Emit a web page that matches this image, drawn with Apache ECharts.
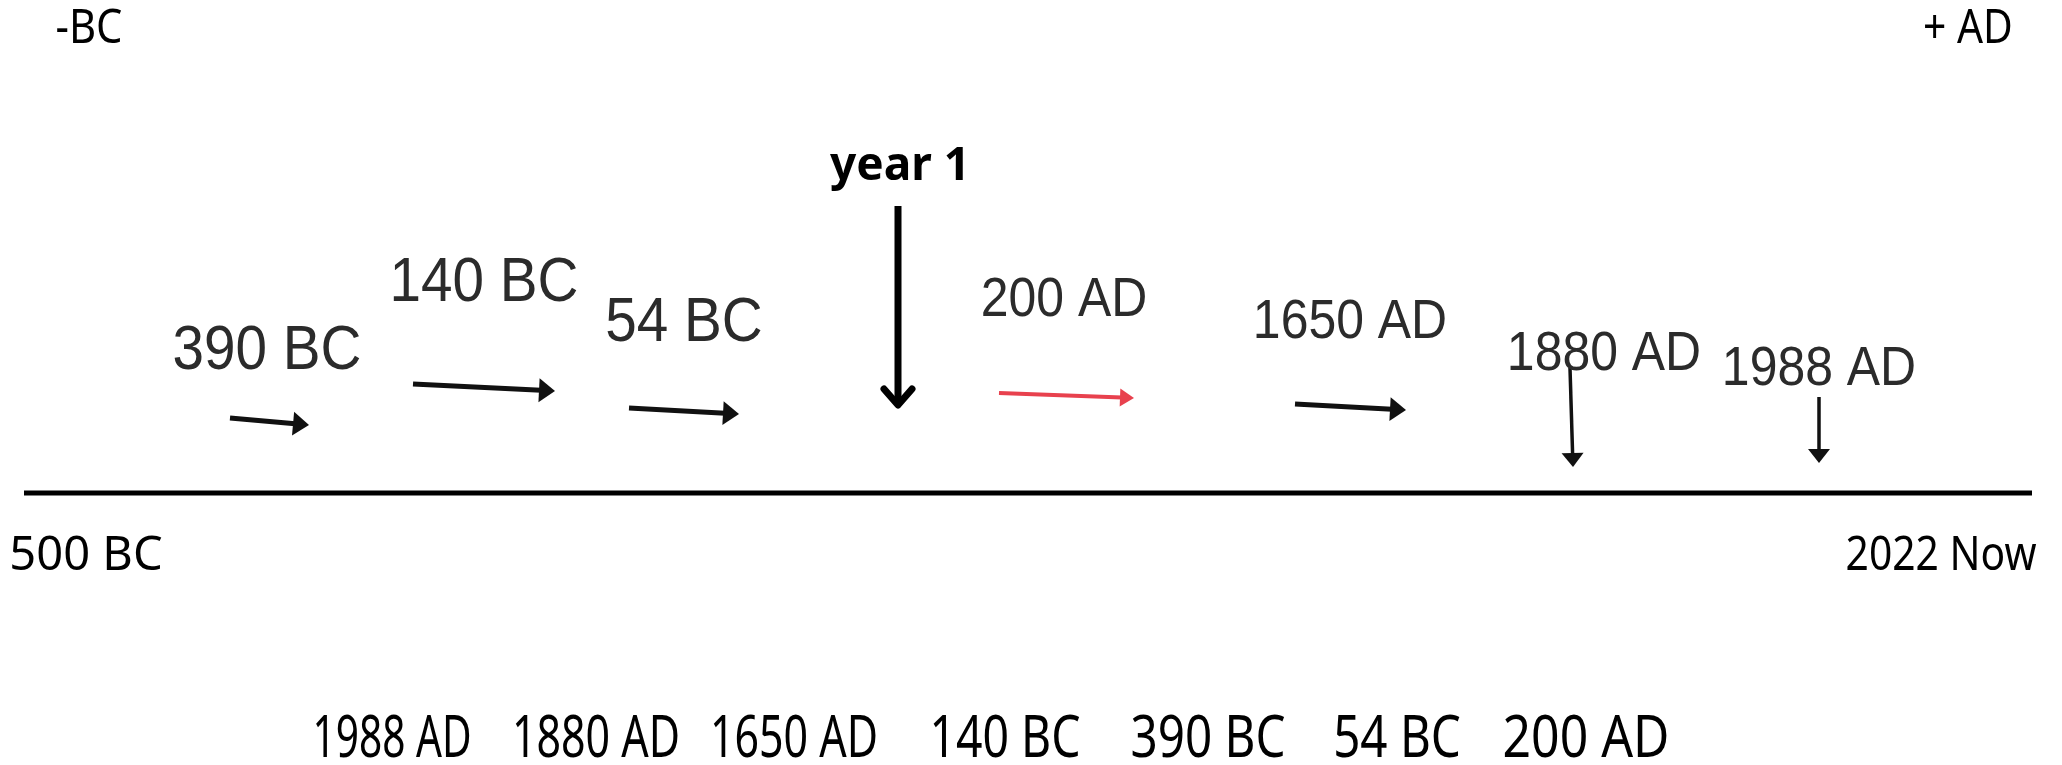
<!DOCTYPE html>
<html>
<head>
<meta charset="utf-8">
<script src="https://cdn.jsdelivr.net/npm/echarts@6/dist/echarts.min.js"></script>
<style>
    html, body { margin: 0; padding: 0; background: #fff; }
    #main { width: 2062px; height: 765px; }
</style>
</head>
<body>
<div id="main"></div>
<script>
// 时间线上方的日期标签
const topLabels = ['390 BC', '140 BC', '54 BC', '200 AD', '1650 AD', '1880 AD', '1988 AD']
const topLabelX = [267, 484, 684, 1064, 1350, 1604, 1819]
const topLabelY = [351, 283, 323, 301, 323, 355, 370]
// 箭头 [x1, y1] -> [x2, y2]
const arrowFrom = [[230, 418], [413, 384], [629, 408], [999, 393], [1295, 404], [1570, 368], [1819, 397]]
const arrowTo = [[309, 425], [555, 391], [739, 414], [1134, 398], [1406, 410], [1573, 467], [1819, 463]]
// 下方打乱顺序的日期
const bottomLabels = ['1988 AD', '1880 AD', '1650 AD', '140 BC', '390 BC', '54 BC', '200 AD']
const bottomLabelX = [392, 596, 794, 1005, 1208, 1397, 1586]
// 其它手写文字
const handLabels = ['-BC', '+ AD', '500 BC', '2022 Now']
const handLabelX = [89, 1968, 86, 1941]
const handLabelY = [29, 29, 556, 556]
// 主时间轴
const axisLineX = [24, 2032]
const axisLineY = 493
const yearOne = { text: 'year 1', x: 900, y: 167, from: [898, 206], to: [898, 405] }

function drawTimeline() {
    const dom = document.getElementById('main')
    const myChart = echarts.init(dom)
    const handFont = '"Noto Sans", sans-serif'
    const arialFont = '"Liberation Sans", Arial, sans-serif'

    // 文字用 custom series 画，可以横向压缩
    const textSeries = function (name, labels, xs, ys, font, color, scaleX, scaleY) {
        return {
            name: name,
            type: 'custom',
            coordinateSystem: 'cartesian2d',
            data: labels.map(function (t, i) { return [xs[i], ys[i]] }),
            renderItem: function (params, api) {
                const i = params.dataIndex
                const p = api.coord([api.value(0), api.value(1)])
                return {
                    type: 'text',
                    x: p[0],
                    y: p[1],
                    scaleX: Array.isArray(scaleX) ? scaleX[i] : scaleX,
                    scaleY: Array.isArray(scaleY) ? scaleY[i] : scaleY,
                    style: {
                        text: labels[i],
                        font: Array.isArray(font) ? font[i] : font,
                        fill: color,
                        align: 'center',
                        verticalAlign: 'middle'
                    }
                }
            }
        }
    }

    const topFonts = topLabels.map(function (t) {
        return (t.indexOf('BC') > -1 ? '59px ' : '52px ') + arialFont
    })

    const option = {
        animation: false,
        grid: { left: 0, right: 0, top: 0, bottom: 0 },
        xAxis: { type: 'value', min: 0, max: 2062, show: false },
        yAxis: { type: 'value', min: 0, max: 765, inverse: true, show: false },
        series: [
            // 主线
            {
                type: 'line',
                data: [[axisLineX[0], axisLineY], [axisLineX[1], axisLineY]],
                symbol: 'none',
                lineStyle: { color: '#000', width: 5 }
            },
            // 实心箭头
            {
                type: 'custom',
                data: arrowFrom.map(function (f, i) { return [f[0], f[1], arrowTo[i][0], arrowTo[i][1]] }),
                renderItem: function (params, api) {
                    const a = api.coord([api.value(0), api.value(1)])
                    const b = api.coord([api.value(2), api.value(3)])
                    const ang = Math.atan2(b[1] - a[1], b[0] - a[0])
                    const vertical = Math.abs(b[1] - a[1]) > Math.abs(b[0] - a[0])
                    const red = params.dataIndex === 3
                    const color = red ? '#e8414e' : '#111'
                    const len = vertical ? 14 : (red ? 14 : 16)
                    const half = vertical ? 11 : (red ? 9 : 12)
                    const bx = b[0] - Math.cos(ang) * len
                    const by = b[1] - Math.sin(ang) * len
                    const nx = -Math.sin(ang) * half
                    const ny = Math.cos(ang) * half
                    return {
                        type: 'group',
                        children: [
                            {
                                type: 'line',
                                shape: { x1: a[0], y1: a[1], x2: bx + Math.cos(ang) * 2, y2: by + Math.sin(ang) * 2 },
                                style: { stroke: color, lineWidth: vertical ? 3.5 : (red ? 4 : 5) }
                            },
                            {
                                type: 'polygon',
                                shape: { points: [[b[0], b[1]], [bx + nx, by + ny], [bx - nx, by - ny]] },
                                style: { fill: color }
                            }
                        ]
                    }
                }
            },
            // year 1 箭头
            {
                type: 'custom',
                data: [[yearOne.from[0], yearOne.from[1], yearOne.to[0], yearOne.to[1]]],
                renderItem: function (params, api) {
                    const a = api.coord([api.value(0), api.value(1)])
                    const b = api.coord([api.value(2), api.value(3)])
                    return {
                        type: 'group',
                        children: [
                            {
                                type: 'line',
                                shape: { x1: a[0], y1: a[1], x2: b[0], y2: b[1] },
                                style: { stroke: '#000', lineWidth: 7 }
                            },
                            {
                                type: 'polyline',
                                shape: { points: [[b[0] - 14, b[1] - 16], [b[0], b[1]], [b[0] + 14, b[1] - 16]] },
                                style: { stroke: '#000', lineWidth: 7, lineCap: 'round', lineJoin: 'round', fill: null }
                            }
                        ]
                    }
                }
            },
            textSeries('top', topLabels, topLabelX, topLabelY, topFonts, '#2b2b2b', 0.96, 1.08),
            textSeries('bottom', bottomLabels, bottomLabelX, bottomLabels.map(function () { return 740 }), '58px ' + handFont, '#000',
                [0.7, 0.74, 0.74, 0.8, 0.82, 0.82, 0.86], 1.0),
            textSeries('hand', handLabels, handLabelX, handLabelY, '48px ' + handFont, '#000', [0.87, 0.85, 0.98, 0.85], 1.0),
            textSeries('year', [yearOne.text], [yearOne.x], [yearOne.y], 'bold 46px ' + handFont, '#000', 1.0, 1.0)
        ]
    }
    myChart.setOption(option)
}
drawTimeline()
</script>
</body>
</html>
